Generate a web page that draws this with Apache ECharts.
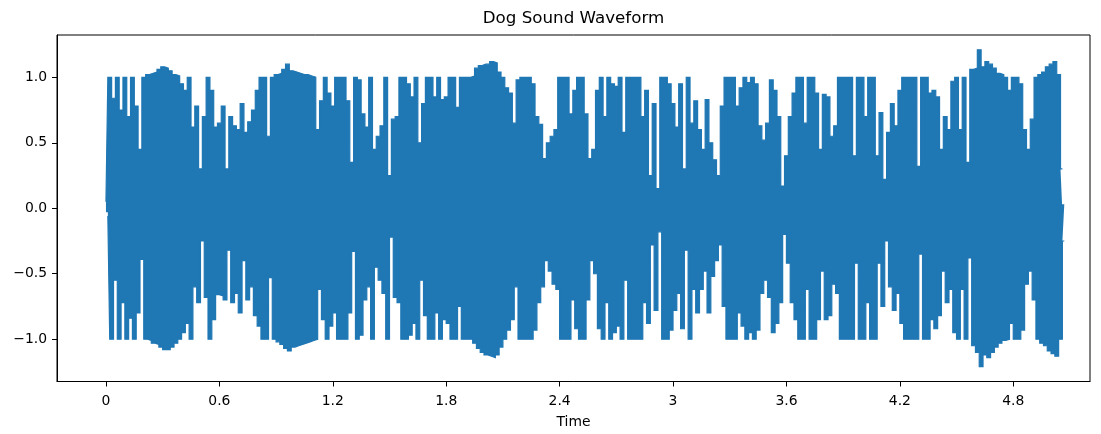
<!DOCTYPE html>
<html>
<head>
<meta charset="utf-8">
<script src="https://cdn.jsdelivr.net/npm/echarts@6/dist/echarts.min.js"></script>
<style>
html,body{margin:0;padding:0;background:#fff;}
#chart{width:1101px;height:434px;}
</style>
</head>
<body>
<div id="chart"></div>
<script>
// upper: positive extreme at t = 0.02*i ; lower: negative extreme at t = 0.02*i + 0.01
const sampleStep = 0.02;
const upper = [
0.05,1.0,0.84,1.0,0.75,1.0,0.7,1.0,0.78,0.45,
1.0,1.02,1.03,1.04,1.06,1.08,1.07,1.05,1.02,1.01,
0.95,0.9,1.0,0.62,0.78,0.3,0.7,1.0,0.9,0.62,
0.65,0.78,0.3,0.7,0.63,0.6,0.8,0.58,0.66,0.75,
0.9,1.0,1.0,0.55,1.0,1.02,1.03,1.06,1.1,1.05,
1.04,1.03,1.02,1.02,1.01,1.0,0.6,0.82,1.0,0.88,
0.78,1.0,1.0,1.0,0.82,0.35,1.0,0.98,0.72,0.62,
1.0,0.45,0.55,0.63,1.0,0.25,0.68,0.7,1.0,1.0,
0.95,0.85,1.0,0.5,0.8,1.0,1.0,0.85,1.0,0.83,
0.85,1.0,1.0,0.77,1.0,1.0,1.0,1.01,1.07,1.09,
1.1,1.1,1.12,1.11,1.04,1.0,0.92,0.88,0.65,0.98,
1.0,1.0,1.0,0.95,0.7,0.64,0.38,0.5,0.55,0.6,
1.0,1.0,1.0,0.72,0.9,1.0,1.0,0.72,0.38,0.45,
0.9,1.0,0.7,1.0,0.95,0.93,1.0,0.58,1.0,1.0,
1.0,1.0,0.7,0.9,0.25,0.8,0.15,1.0,1.0,0.95,
0.8,0.62,0.95,0.3,1.0,0.65,0.82,0.6,0.45,0.83,
0.5,0.37,0.25,0.78,1.0,1.0,1.0,0.78,0.92,1.0,
0.96,1.0,0.95,0.63,0.52,0.65,0.98,0.9,0.7,0.17,
0.4,0.7,0.88,1.0,1.0,0.65,1.0,1.0,0.88,0.45,
0.87,0.85,0.55,0.63,1.0,1.0,1.0,1.0,0.4,1.0,
1.0,0.7,1.0,1.0,0.4,0.73,0.22,0.58,0.8,0.63,
0.9,1.0,1.0,1.0,1.0,0.32,1.0,1.0,0.88,0.9,
0.85,0.45,0.7,0.6,0.97,1.0,0.6,1.0,0.35,1.06,
1.07,1.21,1.08,1.12,1.1,1.07,1.03,1.02,1.0,0.9,
1.0,1.0,0.95,0.6,0.45,0.68,1.0,1.02,1.04,1.08,
1.1,1.12,1.02,0.3
];
const lower = [
-0.06,-1.0,-0.55,-1.0,-0.72,-1.0,-0.84,-1.0,-0.8,-0.39,
-1.0,-1.01,-1.03,-1.04,-1.06,-1.08,-1.08,-1.06,-1.03,-1.0,
-0.95,-0.88,-1.0,-0.6,-0.72,-0.25,-0.68,-1.0,-0.85,-0.66,
-0.67,-0.7,-0.32,-0.72,-0.65,-0.8,-0.4,-0.7,-0.6,-0.82,
-0.9,-1.0,-1.0,-0.53,-1.0,-1.02,-1.04,-1.07,-1.09,-1.06,
-1.05,-1.04,-1.03,-1.02,-1.01,-1.0,-0.62,-0.85,-1.0,-0.9,
-0.8,-1.0,-1.0,-1.0,-0.8,-0.33,-1.0,-0.97,-0.7,-0.6,
-1.0,-0.45,-0.55,-0.65,-1.0,-0.22,-0.68,-0.72,-1.0,-1.0,
-0.97,-0.88,-1.0,-0.55,-0.82,-1.0,-1.0,-0.8,-1.0,-0.85,
-0.88,-1.0,-1.0,-0.75,-1.0,-1.0,-1.0,-1.03,-1.07,-1.1,
-1.12,-1.13,-1.14,-1.12,-1.06,-1.0,-0.93,-0.85,-0.6,-1.0,
-1.0,-1.0,-1.0,-0.93,-0.72,-0.6,-0.4,-0.48,-0.58,-0.62,
-1.0,-1.0,-1.0,-0.7,-0.92,-1.0,-1.0,-0.7,-0.4,-0.5,
-0.92,-1.0,-0.72,-1.0,-0.95,-0.9,-1.0,-0.55,-1.0,-1.0,
-1.0,-1.0,-0.72,-0.88,-0.28,-0.78,-0.18,-1.0,-1.0,-0.93,
-0.78,-0.65,-0.92,-0.32,-1.0,-0.62,-0.8,-0.62,-0.48,-0.8,
-0.52,-0.4,-0.28,-0.75,-1.0,-1.0,-1.0,-0.8,-0.9,-1.0,
-0.95,-1.0,-0.93,-0.65,-0.55,-0.68,-0.95,-0.88,-0.72,-0.2,
-0.42,-0.72,-0.85,-1.0,-1.0,-0.62,-1.0,-1.0,-0.85,-0.48,
-0.85,-0.82,-0.58,-0.65,-1.0,-1.0,-1.0,-1.0,-0.42,-1.0,
-1.0,-0.72,-1.0,-1.0,-0.42,-0.75,-0.25,-0.6,-0.78,-0.65,
-0.88,-1.0,-1.0,-1.0,-1.0,-0.35,-1.0,-1.0,-0.85,-0.92,
-0.82,-0.48,-0.72,-0.62,-0.95,-1.0,-0.62,-1.0,-0.38,-1.05,
-1.1,-1.21,-1.12,-1.14,-1.1,-1.06,-1.03,-1.01,-1.0,-0.88,
-1.0,-1.0,-0.93,-0.58,-0.48,-0.7,-1.0,-1.03,-1.05,-1.09,
-1.11,-1.13,-1.0,-0.25
];
const xTicks = [0, 0.6, 1.2, 1.8, 2.4, 3, 3.6, 4.2, 4.8];
const yTicks = [-1.0, -0.5, 0.0, 0.5, 1.0];

const upperData = upper.map((v, i) => [i * sampleStep, v]);
const lowerData = lower.map((v, i) => [i * sampleStep + sampleStep / 2, v]);

const FONT = 'DejaVu Sans';
const BLUE = '#1f77b4';
// each half is filled a little past zero so the two halves overlap (no seam)
const waveSeries = (data, origin) => ({
  type: 'line',
  data: data,
  step: 'middle',
  showSymbol: false,
  symbol: 'none',
  sampling: false,
  clip: true,
  lineStyle: {color: BLUE, width: 1.2, join: 'miter'},
  areaStyle: {color: BLUE, opacity: 1, origin: origin},
  itemStyle: {color: BLUE}
});

const chart = echarts.init(document.getElementById('chart'), null, {renderer: 'canvas'});
chart.setOption({
  animation: false,
  backgroundColor: '#ffffff',
  title: {
    text: 'Dog Sound Waveform',
    left: 573.5,
    textAlign: 'center',
    top: 10,
    padding: 0,
    textStyle: {fontFamily: FONT, fontSize: 16.7, fontWeight: 'normal', color: '#000'}
  },
  grid: {left: 57, top: 35, width: 1033, height: 348, show: true, borderColor: '#000', borderWidth: 1, backgroundColor: 'transparent'},
  xAxis: {
    type: 'value',
    min: -0.259, max: 5.206,
    name: 'Time',
    nameLocation: 'middle',
    nameGap: 33.5,
    nameTextStyle: {fontFamily: FONT, fontSize: 13.9, color: '#000'},
    axisLine: {show: true, onZero: false, lineStyle: {color: '#000', width: 1}},
    axisTick: {show: true, length: 5, lineStyle: {color: '#000', width: 1}, customValues: xTicks},
    axisLabel: {margin: 12.5, fontFamily: FONT, fontSize: 13.9, color: '#000', customValues: xTicks,
      formatter: v => String(v)},
    splitLine: {show: false}
  },
  yAxis: {
    type: 'value',
    min: -1.323, max: 1.323,
    axisLine: {show: true, onZero: false, lineStyle: {color: '#000', width: 1}},
    axisTick: {show: true, length: 5, lineStyle: {color: '#000', width: 1}, customValues: yTicks},
    axisLabel: {margin: 10, fontFamily: FONT, fontSize: 13.9, color: '#000', customValues: yTicks,
      formatter: v => v.toFixed(1).replace('-', '\u2212')},
    splitLine: {show: false}
  },
  series: [waveSeries(upperData, -0.03), waveSeries(lowerData, 0.03)]
});
</script>
</body>
</html>
